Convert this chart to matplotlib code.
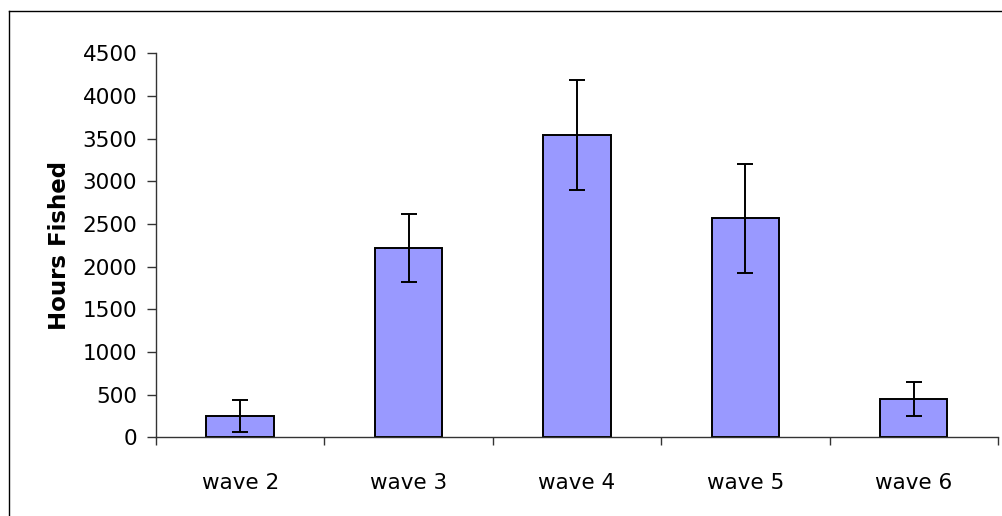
import matplotlib.pyplot as plt
from matplotlib.lines import Line2D
from matplotlib.ticker import FixedLocator

categories = ["wave 2", "wave 3", "wave 4", "wave 5", "wave 6"]
hours = [250, 2215, 3540, 2565, 450]
errors = [190, 400, 645, 637, 200]
y_ticks = [0, 500, 1000, 1500, 2000, 2500, 3000, 3500, 4000, 4500]

plt.rcParams["font.family"] = ["DejaVu Sans"]

fig = plt.figure(figsize=(10.03, 5.16), dpi=100)
ax = fig.add_axes([0.1555, 0.1525, 0.8395, 0.7442])

x = list(range(len(categories)))
ax.bar(x, hours, width=0.4, color="#9999FF", edgecolor="black", linewidth=1.4, zorder=2)
ax.errorbar(x, hours, yerr=errors, fmt="none", ecolor="black", elinewidth=1.4,
            capsize=5.8, capthick=1.4, zorder=3)

ax.set_xlim(-0.5, len(categories) - 0.5)
ax.set_ylim(0, 4500)
ax.set_yticks(y_ticks)
ax.set_yticklabels([str(v) for v in y_ticks], fontsize=15.5)

# tick marks at category boundaries, labels at the centres
ax.xaxis.set_major_locator(FixedLocator([i - 0.5 for i in range(len(categories) + 1)]))
ax.xaxis.set_major_formatter(plt.NullFormatter())
ax.xaxis.set_minor_locator(FixedLocator(x))
ax.set_xticklabels(categories, minor=True, fontsize=15.5)
ax.tick_params(axis="x", which="minor", length=0, pad=26)
ax.tick_params(axis="x", which="major", direction="out", length=6, width=1, color="#333333")
ax.tick_params(axis="y", direction="out", length=6.5, width=1, color="#333333", pad=7)

for side in ["top", "right"]:
    ax.spines[side].set_visible(False)
for side in ["left", "bottom"]:
    ax.spines[side].set_color("#333333")
    ax.spines[side].set_linewidth(1)

ax.set_ylabel("Hours Fished", fontsize=16.5, fontweight="bold", labelpad=8)

# outer chart border (left and top edges visible)
fig.add_artist(Line2D([9 / 1003, 9 / 1003], [0, 1 - 11 / 516], transform=fig.transFigure,
                      color="black", linewidth=1))
fig.add_artist(Line2D([9 / 1003, 1], [1 - 11 / 516, 1 - 11 / 516], transform=fig.transFigure,
                      color="black", linewidth=1))

fig.savefig("out.png", dpi=100)
